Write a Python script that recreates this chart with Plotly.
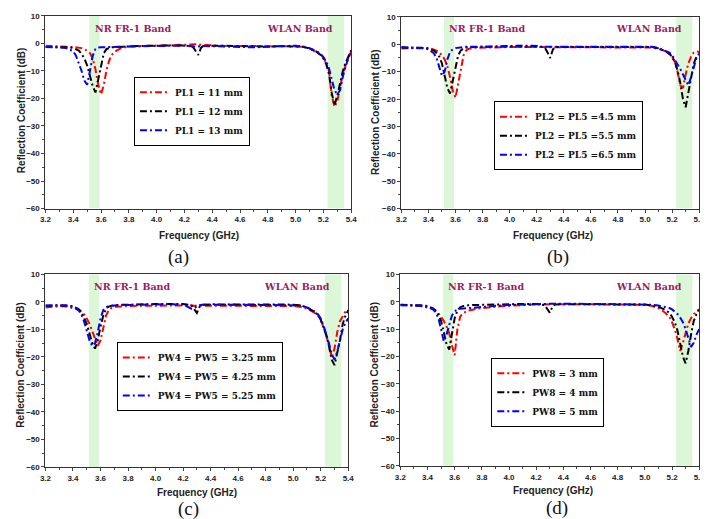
import plotly.graph_objects as go

freq = [3.20, 3.25, 3.30, 3.35, 3.40, 3.42, 3.44, 3.46, 3.48, 3.50, 3.52, 3.54, 3.56, 3.58, 3.60,
        3.62, 3.64, 3.66, 3.68, 3.70, 3.74, 3.80, 3.90, 4.00, 4.10, 4.20, 4.26, 4.28, 4.30, 4.32,
        4.34, 4.40, 4.50, 4.60, 4.70, 4.80, 4.90, 5.00, 5.05, 5.10, 5.15, 5.18, 5.20, 5.22, 5.24,
        5.26, 5.28, 5.30, 5.32, 5.34, 5.36, 5.38, 5.40]

# Panel (a)
a_labels = ["PL1 = 11 mm", "PL1 = 12 mm", "PL1 = 13 mm"]
a_red = [-0.8, -1.0, -1.1, -1.2, -1.3, -1.4, -1.5, -1.7, -2.0, -2.6, -3.5, -5.5, -9.5, -15, -18.5,
         -15, -9.5, -6, -4, -3, -1.8, -1.1, -0.9, -0.8, -0.6, -0.4, -0.3, -0.2, -0.3, -0.5,
         -0.6, -0.7, -0.9, -1.0, -1.0, -1.0, -1.0, -1.0, -1.2, -1.8, -3.0, -4.0, -5.2, -7, -10,
         -19, -23, -21, -16, -11, -8, -5.5, -3]
a_black = [-1.3, -1.3, -1.3, -1.4, -1.6, -2.0, -2.6, -3.8, -5.5, -8, -11.5, -15.5, -17.8, -13, -7,
           -3.5, -2, -1.6, -1.4, -1.3, -1.2, -1.0, -0.9, -0.8, -0.7, -0.7, -1.2, -2.5, -4.2, -1.5,
           -0.8, -0.8, -0.9, -1.0, -1.1, -1.1, -1.0, -1.0, -1.2, -1.8, -3.0, -4.2, -5.5, -7.5, -11,
           -18, -22.5, -19, -14, -10, -7, -4.5, -2.5]
a_blue = [-1.3, -1.3, -1.4, -1.7, -2.8, -4.5, -7, -10, -13.5, -15, -10, -4.5, -2.0, -1.5, -1.4,
          -1.3, -1.3, -1.3, -1.3, -1.3, -1.2, -1.1, -1.0, -0.9, -0.8, -0.8, -1.0, -1.3, -1.1, -0.9,
          -0.9, -1.0, -1.2, -1.3, -1.4, -1.2, -1.0, -0.8, -1.1, -1.7, -2.8, -3.8, -5, -6.5, -9,
          -13, -17, -18.5, -17, -12, -8, -5, -2.5]

# Panel (b)
b_labels = ["PL2 = PL5 =4.5 mm", "PL2 = PL5 =5.5 mm", "PL2 = PL5 =6.5 mm"]
b_red = [-1.5, -1.5, -1.4, -1.3, -1.4, -1.6, -1.9, -2.3, -3, -4, -5.5, -8, -12, -17, -19.5,
         -14, -8, -4, -2.2, -1.6, -1.3, -1.2, -1.1, -1.0, -1.0, -1.0, -1.0, -1.0, -1.0, -1.0,
         -1.0, -1.0, -1.0, -1.0, -1.0, -1.0, -1.0, -1.0, -1.2, -1.7, -2.5, -3.5, -4.5, -6.5, -10,
         -15, -16, -11, -7, -4.5, -3, -2.6, -2.8]
b_black = [-1.2, -1.2, -1.2, -1.3, -1.5, -1.8, -2.3, -3.2, -4.5, -7, -11, -16, -18, -13, -8,
           -4, -2.2, -1.5, -1.2, -1.1, -1.0, -0.9, -0.7, -0.6, -0.5, -0.6, -1.2, -3, -5, -1.8,
           -1.0, -1.0, -1.0, -1.0, -0.9, -0.9, -0.9, -0.9, -1.0, -1.5, -2.5, -3.5, -4.5, -6.5, -9.5,
           -14, -20, -23, -18, -12, -7, -4.5, -3.5]
b_blue = [-1.0, -1.1, -1.2, -1.4, -1.8, -2.4, -3.3, -5, -8, -11.5, -10, -5.5, -2.8, -1.8, -1.4,
          -1.2, -1.1, -1.0, -0.9, -0.9, -0.9, -0.9, -0.8, -0.7, -0.7, -0.7, -0.7, -0.7, -0.7, -0.7,
          -0.7, -0.7, -0.7, -0.7, -0.7, -0.7, -0.7, -0.7, -0.9, -1.4, -2.3, -3, -4, -5.5, -7,
          -9, -11, -13, -15, -12, -8, -5, -3.5]

# Panel (c)
c_labels = ["PW4 = PW5 = 3.25 mm", "PW4 = PW5 = 4.25 mm", "PW4 = PW5 = 5.25 mm"]
c_red = [-2.0, -1.8, -1.6, -1.7, -2.2, -2.5, -3, -3.5, -4.5, -6, -8, -10.5, -13, -16, -14,
         -9, -5, -3, -2.2, -1.8, -1.6, -1.5, -1.4, -1.3, -1.3, -1.3, -1.3, -1.4, -1.4, -1.4,
         -1.4, -1.4, -1.4, -1.5, -1.6, -1.5, -1.5, -1.5, -1.8, -2.5, -3.8, -5, -6.5, -9, -12,
         -16, -20, -17, -11, -7, -5, -3.5, -3]
c_black = [-1.4, -1.3, -1.2, -1.3, -1.6, -2.0, -2.6, -3.5, -5.5, -8, -11.5, -15, -17, -14, -9,
           -5, -2.5, -1.7, -1.4, -1.2, -1.1, -1.0, -0.9, -0.8, -0.8, -0.8, -1.2, -2.5, -4, -1.8,
           -1.0, -0.9, -0.9, -1.0, -1.0, -1.0, -1.0, -1.0, -1.2, -2, -3.5, -4.8, -6.5, -9, -12,
           -16, -21, -23, -19, -14, -8, -5, -3]
c_blue = [-1.3, -1.2, -1.2, -1.3, -1.7, -2.2, -3, -4.5, -7, -10.5, -14, -16, -15, -11, -6,
          -3, -2, -1.6, -1.4, -1.3, -1.2, -1.1, -1.0, -0.9, -0.8, -1.0, -2.5, -2.4, -1.6, -1.2,
          -1.0, -1.0, -1.1, -1.1, -1.1, -1.1, -1.1, -1.1, -1.3, -2, -3.3, -4.5, -6, -8.5, -11.5,
          -15, -19, -21, -18, -14, -10, -7.5, -6]

# Panel (d)
d_labels = ["PW8 = 3 mm", "PW8 = 4 mm", "PW8 = 5 mm"]
d_red = [-1.0, -1.1, -1.3, -1.6, -2.0, -2.3, -2.7, -3.3, -4.2, -5.5, -7, -9, -11.5, -16, -19.5,
         -10, -5.5, -4.2, -3.6, -3.2, -2.8, -2.3, -1.8, -1.4, -1.2, -1.0, -0.9, -0.9, -0.9, -0.9,
         -0.9, -0.9, -0.9, -0.9, -0.9, -1.0, -1.0, -1.1, -1.5, -2.3, -4, -5.5, -7.5, -10, -13.5,
         -18, -15, -11, -8, -6, -4.5, -3.5, -2.8]
d_black = [-1.2, -1.2, -1.3, -1.3, -1.6, -1.9, -2.4, -3.2, -4.8, -7, -11, -15.5, -17.5, -12, -6,
           -3.2, -2.0, -1.6, -1.4, -1.3, -1.2, -1.1, -1.0, -0.9, -0.8, -0.8, -1.2, -2.5, -4, -1.8,
           -1.0, -0.9, -0.9, -0.9, -0.9, -1.0, -1.0, -1.0, -1.3, -1.8, -3, -4, -5.5, -7.5, -10.5,
           -15, -20, -22.5, -18, -12, -7, -4.5, -3]
d_blue = [-1.3, -1.3, -1.3, -1.5, -1.8, -2.2, -2.8, -3.8, -6, -10, -14.5, -12, -8, -5, -3.5,
          -2.8, -2.6, -2.5, -2.5, -2.4, -2.3, -2.0, -1.5, -1.2, -1.0, -0.8, -0.7, -0.7, -0.7, -0.7,
          -0.7, -0.7, -0.7, -0.7, -0.8, -0.9, -1.0, -1.0, -1.1, -1.4, -1.9, -2.3, -2.8, -3.5, -4.5,
          -5.8, -7.5, -10, -13.5, -16.5, -15, -12, -10]

panel_letters = ["(a)", "(b)", "(c)", "(d)"]
nr_band = [3.515, 3.59]
wlan_band = [5.23, 5.35]
x_ticks = [3.2, 3.4, 3.6, 3.8, 4.0, 4.2, 4.4, 4.6, 4.8, 5.0, 5.2, 5.4]
y_ticks = [10, 0, -10, -20, -30, -40, -50, -60]

colors = ["#ff0000", "#000000", "#0000ff"]
W, H = 708, 519

# pixel boxes of each plot area: (left, right, top, bottom)
boxes = [(32, 343, 4, 200), (394, 697, 5, 200), (32, 340, 267, 463), (393, 697, 267, 462)]
legend_centers = [(181, 101), (564, 126), (189, 371), (543, 387)]
ylab_pos = [(7, 100), (367, 102), (7, 359), (367, 359)]
xlab_pos = [(188, 227), (548, 227), (186, 489), (548, 487)]
letter_pos = [(167, 249), (553, 249), (178, 506), (552, 505)]

panels = [
    (a_labels, [a_red, a_black, a_blue]),
    (b_labels, [b_red, b_black, b_blue]),
    (c_labels, [c_red, c_black, c_blue]),
    (d_labels, [d_red, d_black, d_blue]),
]

fig = go.Figure()
layout = {}
annotations = []
shapes = []
serif = "DejaVu Serif"
sans = "Liberation Sans"

for i, (labels, series) in enumerate(panels):
    n = "" if i == 0 else str(i + 1)
    xa, ya = "x" + n, "y" + n
    leg = "legend" + n
    for lab, vals, col in zip(labels, series, colors):
        fig.add_trace(go.Scatter(
            x=freq, y=vals, name=lab, mode="lines", xaxis=xa, yaxis=ya, legend=leg,
            line=dict(color=col, width=2, dash="7px,3px,2px,3px")))
    l, r, t, b = boxes[i]
    layout["xaxis" + n] = dict(
        domain=[l / W, r / W], anchor=ya, range=[3.2, 5.4], tickvals=x_ticks,
        ticktext=[f"{v:.1f}" for v in x_ticks], ticks="outside", ticklen=3, tickwidth=1,
        minor=dict(dtick=0.1, ticks="outside", ticklen=2, tick0=3.2),
        showline=True, linecolor="#333", linewidth=1.2, mirror=True, showgrid=False,
        zeroline=False, tickfont=dict(family=sans, size=8, color="#222", weight="bold"))
    layout["yaxis" + n] = dict(
        domain=[1 - b / H, 1 - t / H], anchor=xa, range=[-60, 10], tickvals=y_ticks,
        ticks="outside", ticklen=3, tickwidth=1,
        minor=dict(dtick=5, ticks="outside", ticklen=2, tick0=0),
        showline=True, linecolor="#333", linewidth=1.2, mirror=True, showgrid=False,
        zeroline=False, tickfont=dict(family=sans, size=8, color="#222", weight="bold"))
    cx, cy = legend_centers[i]
    layout[leg] = dict(
        x=cx / W, y=1 - cy / H, xanchor="center", yanchor="middle",
        bordercolor="#000", borderwidth=1, bgcolor="white", itemwidth=30,
        tracegroupgap=0, font=dict(family=serif, size=9, color="#111", weight="bold"))
    for band in (nr_band, wlan_band):
        shapes.append(dict(type="rect", xref=xa, yref=ya, x0=band[0], x1=band[1],
                           y0=-60, y1=10, fillcolor="#dcf7d8", line=dict(width=0),
                           layer="below"))
    for txt, xv in (("NR FR-1 Band", 3.83), ("WLAN Band", 5.03)):
        annotations.append(dict(text=txt, x=xv, y=5.6, xref=xa, yref=ya, showarrow=False,
                                xanchor="center", yanchor="middle",
                                font=dict(family=serif, size=9.5, color="#9b1b5f",
                                          weight="bold")))
    px_, py_ = ylab_pos[i]
    annotations.append(dict(text="Reflection Coefficient (dB)", x=px_ / W, y=1 - py_ / H,
                            xref="paper", yref="paper", showarrow=False, textangle=-90,
                            xanchor="center", yanchor="middle",
                            font=dict(family=sans, size=10, color="#222", weight="bold")))
    px_, py_ = xlab_pos[i]
    annotations.append(dict(text="Frequency (GHz)", x=px_ / W, y=1 - py_ / H,
                            xref="paper", yref="paper", showarrow=False,
                            xanchor="center", yanchor="middle",
                            font=dict(family=sans, size=10, color="#222", weight="bold")))
    px_, py_ = letter_pos[i]
    annotations.append(dict(text=panel_letters[i], x=px_ / W, y=1 - py_ / H,
                            xref="paper", yref="paper", showarrow=False,
                            xanchor="center", yanchor="middle",
                            font=dict(family="Liberation Serif", size=19, color="#111")))

fig.update_layout(
    width=W, height=H, margin=dict(l=0, r=0, t=0, b=0),
    paper_bgcolor="white", plot_bgcolor="white",
    annotations=annotations, shapes=shapes, showlegend=True, **layout)

fig.write_html("out.html")
